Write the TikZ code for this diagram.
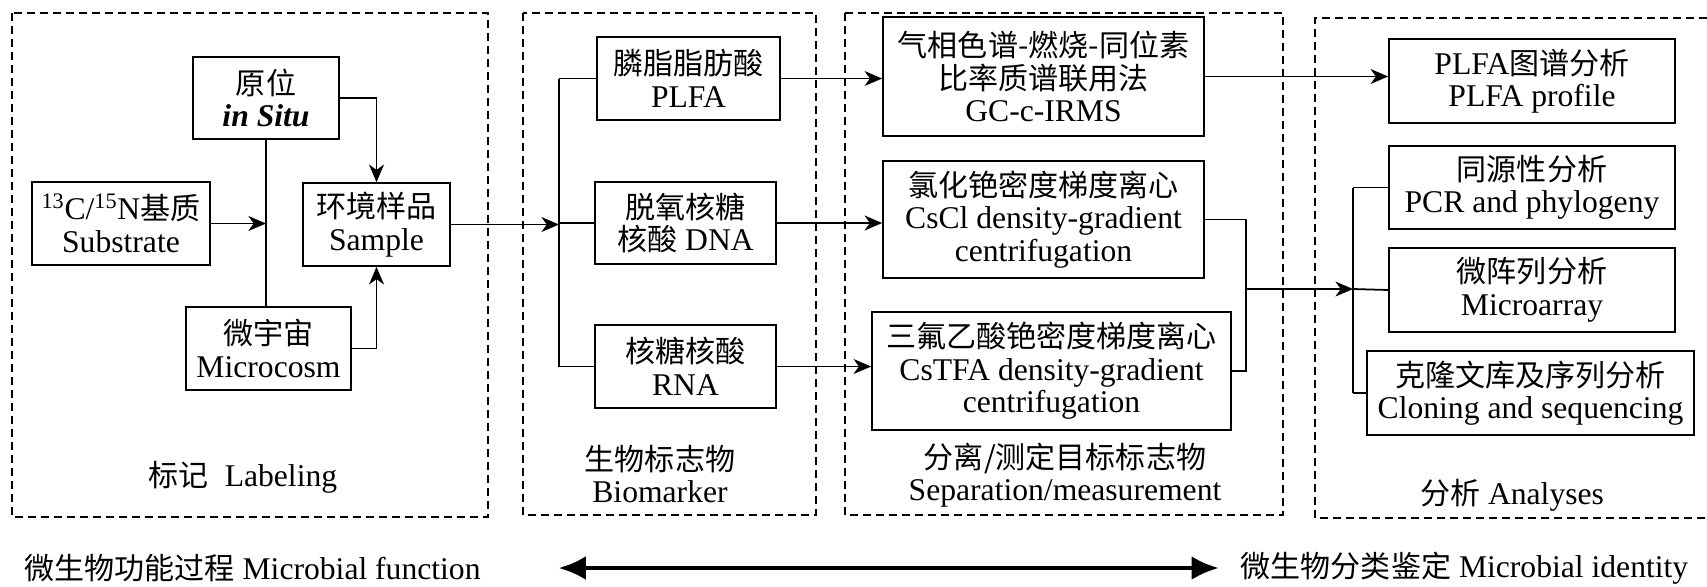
\documentclass[tikz,border=0pt]{standalone}
\usepackage{fontspec}
\setmainfont{Liberation Serif}
\newfontfamily\cjk[Scale=0.95]{Noto Sans CJK SC}
\usetikzlibrary{positioning, calc, arrows.meta}

\begin{document}
\begin{tikzpicture}[x=0.02cm, y=-0.02cm,
	font=\fontsize{18}{18.5}\selectfont,
	blk/.style={draw, line width=1pt, align=center, inner sep=0pt},
	grp/.style={draw, line width=1.1pt, dash pattern=on 0.16cm off 0.1cm},
	arr/.style={-{Stealth[length=10pt, width=8.5pt, inset=3pt]}, line width=1pt},
	lnk/.style={line width=1pt}]
			\useasboundingbox (0,0) rectangle (1707,586);
			\draw[grp] (12,13) rectangle (488,517);
			\draw[grp] (523,13) rectangle (816,515);
			\draw[grp] (845,13) rectangle (1283,515);
			\draw[grp] (1707,18) -- (1315,18) -- (1315,518) -- (1707,518);

			\node (insitu) at (266,98) [blk, minimum width=2.92cm, minimum height=1.64cm] {{\cjk 原位}\\\textbf{\textit{in Situ}}};
			\node (substrate) at (121,223.5) [blk, minimum width=3.56cm, minimum height=1.66cm] {\textsuperscript{13}C/\textsuperscript{15}N{\cjk 基质}\\Substrate};
			\node (sample) at (376.5,224.5) [blk, minimum width=2.94cm, minimum height=1.66cm] {{\cjk 环境样品}\\Sample};
			\node (microcosm) at (268.5,348.5) [blk, minimum width=3.3cm, minimum height=1.66cm] {{\cjk 微宇宙}\\Microcosm};

			\node (plfa) at (688.5,78.5) [blk, minimum width=3.66cm, minimum height=1.66cm] {{\cjk 膦脂脂肪酸}\\PLFA};
			\node (dna) at (685.5,223) [blk, minimum width=3.62cm, minimum height=1.64cm] {{\cjk 脱氧核糖}\\{\cjk 核酸} DNA};
			\node (rna) at (685.5,366.5) [blk, minimum width=3.62cm, minimum height=1.66cm] {{\cjk 核糖核酸}\\RNA};

			\node (gcirms) at (1043.5,76.5) [blk, minimum width=6.42cm, minimum height=2.38cm] {{\cjk 气相色谱-燃烧-同位素}\\{\cjk 比率质谱联用法}\\GC-c-IRMS};
			\node (cscl) at (1043.5,219.5) [blk, minimum width=6.42cm, minimum height=2.34cm] {{\cjk 氯化铯密度梯度离心}\\CsCl density-gradient\\centrifugation};
			\node (cstfa) at (1051.5,371) [blk, minimum width=7.18cm, minimum height=2.36cm] {{\cjk 三氟乙酸铯密度梯度离心}\\CsTFA density-gradient\\centrifugation};

			\node (profile) at (1532,81) [blk, minimum width=5.72cm, minimum height=1.68cm] {PLFA{\cjk 图谱分析}\\PLFA profile};
			\node (pcr) at (1532,187.5) [blk, minimum width=5.72cm, minimum height=1.66cm] {{\cjk 同源性分析}\\PCR and phylogeny};
			\node (array) at (1532,290) [blk, minimum width=5.72cm, minimum height=1.68cm] {{\cjk 微阵列分析}\\Microarray};
			\node (cloning) at (1530.5,393) [blk, minimum width=6.54cm, minimum height=1.68cm] {{\cjk 克隆文库及序列分析}\\Cloning and sequencing};

			\node (lab1) at (243,477) {{\cjk 标记}\ \ Labeling};
			\node (lab2) at (660,474) [align=center] {{\cjk 生物标志物}\\Biomarker};
			\node (lab3) at (1065,475) [align=center] {{\cjk 分离/测定目标标志物}\\Separation/measurement};
			\node (lab4) at (1512,495) {{\cjk 分析} Analyses};
			\node (funct) at (252.5,568) {{\cjk 微生物功能过程} Microbial function};
			\node (ident) at (1464.5,568) {{\cjk 微生物分类鉴定} Microbial identity};

			\coordinate (join1) at (insitu.south |- substrate.east);
			\coordinate (split1) at (559,222);
			\coordinate (merge) at (1246,289);
			\coordinate (split2) at (1353,289);

			\draw[lnk] (insitu.south) -- (insitu.south |- microcosm.north);
			\draw[arr] (substrate.east) -- (join1);
			\draw[arr] (insitu.east) -| (sample.north);
			\draw[arr] (microcosm.east) -| (sample.south);
			\draw[arr] (sample.east) -- (sample.east -| split1);
			\draw[lnk] (split1 |- plfa.west) -- (split1 |- rna.west);
			\draw[lnk] (split1 |- plfa.west) -- (plfa.west);
			\draw[lnk] (split1 |- dna.west) -- (dna.west);
			\draw[lnk] (split1 |- rna.west) -- (rna.west);
			\draw[arr] (plfa.east) -- (plfa.east -| gcirms.west);
			\draw[arr] (dna.east) -- (dna.east -| cscl.west);
			\draw[arr] (rna.east) -- (rna.east -| cstfa.west);
			\draw[arr] (gcirms.east) -- (gcirms.east -| profile.west);
			\draw[lnk] (cscl.east) -| (merge) |- (cstfa.east);
			\draw[arr] (merge) -- (split2);
			\draw[lnk] (split2 |- pcr.west) -- (split2 |- cloning.west);
			\draw[lnk] (split2 |- pcr.west) -- (pcr.west);
			\draw[lnk] (split2) -- (array.west);
			\draw[lnk] (split2 |- cloning.west) -- (cloning.west);
			\draw[{Latex[length=0.55cm,width=0.48cm]}-{Latex[length=0.55cm,width=0.48cm]}, line width=2.8pt, shorten <=1.43cm, shorten >=0.31cm] (funct) -- (ident);
		\end{tikzpicture}
\end{document}
